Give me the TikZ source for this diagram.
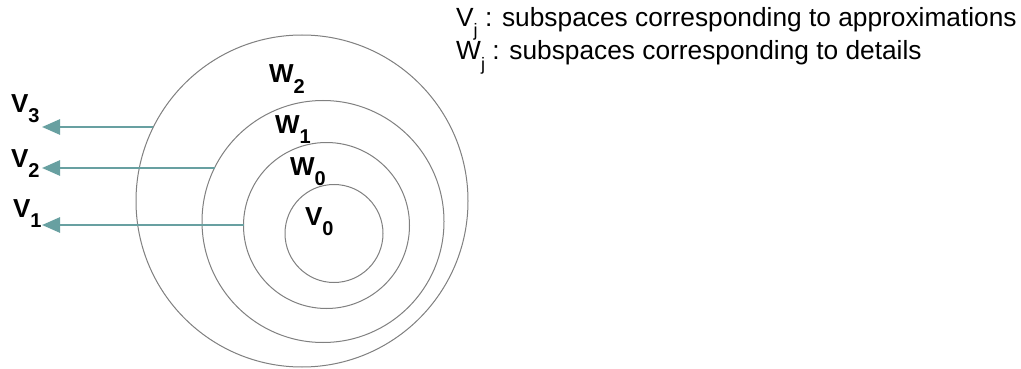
\documentclass[tikz,border=0pt]{standalone}
\usepackage{fontspec}
\setmainfont{Liberation Sans}
\usetikzlibrary{arrows.meta}
\definecolor{ring}{RGB}{128,128,128}
\definecolor{teal}{RGB}{104,160,161}
\newcommand{\blab}[2]{{\fontsize{26}{26}\selectfont\bfseries #1}\raisebox{-10pt}{\fontsize{20}{20}\selectfont\bfseries #2}}
\newcommand{\lsub}{\raisebox{-10pt}[0pt][0pt]{\fontsize{18}{18}\selectfont j}}
\begin{document}
\begin{tikzpicture}[x=1pt,y=-1pt,
  ringstyle/.style={draw=ring,line width=1pt},
  arr/.style={draw=teal,line width=2.7pt,-{Triangle[length=18pt,width=15pt]}},
  lab/.style={anchor=base west,inner sep=0pt,outer sep=0pt},
  legend/.style={anchor=base west,inner sep=0pt,font=\fontsize{26.3}{26.3}\selectfont}]
\useasboundingbox (0,0) rectangle (1021,369);
\fill[white] (0,0) rectangle (1021,369);
% rings
\draw[ringstyle] (302,201) circle[radius=166pt];
\draw[ringstyle] (323,221.5) circle[radius=121pt];
\draw[ringstyle] (326.5,225.5) circle[radius=83pt];
\draw[ringstyle] (334,233.5) circle[radius=49pt];
% labels inside
\node[lab] (w2) at (269,83) {\blab{W}{2}};
\node[lab] (w1) at (275,133) {\blab{W}{1}};
\node[lab] (w0) at (290,175) {\blab{W}{0}};
\node[lab] (v0) at (305,225) {\blab{V}{0}};
% left labels
\node[lab] (v3) at (11,113) {\blab{V}{3}};
\node[lab] (v2) at (11,167) {\blab{V}{2}};
\node[lab] (v1) at (13,217) {\blab{V}{1}};
% arrows
\coordinate (s3) at (153.4,127);
\coordinate (t3) at (42,127);
\coordinate (s2) at (214.5,168);
\coordinate (t2) at (42,168);
\coordinate (s1) at (243.5,225);
\coordinate (t1) at (42,225);
\draw[arr] (s3) -- (t3);
\draw[arr] (s2) -- (t2);
\draw[arr] (s1) -- (t1);
% legend
\node[legend] (lv) at (456,27) {V\lsub{} : subspaces corresponding to approximations};
\node[legend] (lw) at (456,60) {W\lsub{} : subspaces corresponding to details};
\end{tikzpicture}
\end{document}
